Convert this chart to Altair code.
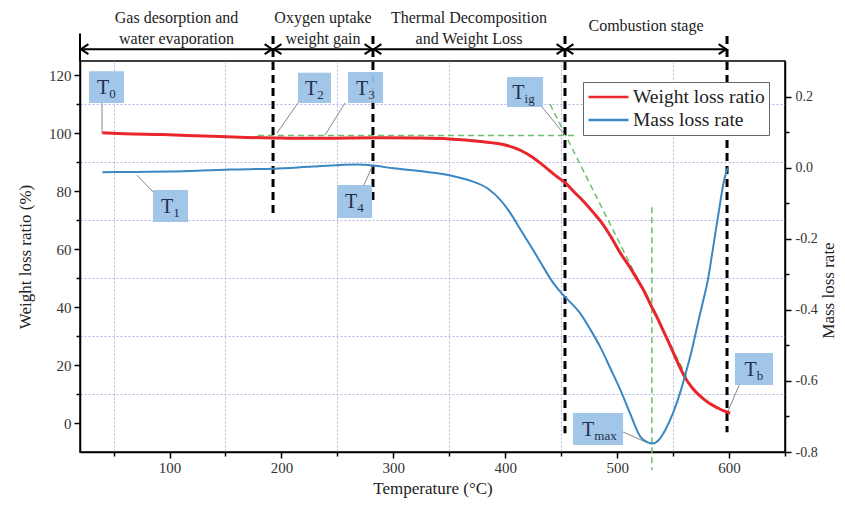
import altair as alt
import pandas as pd

SERIF = "Liberation Serif"
RED = "#e8262b"
BLUE = "#3a87c2"
GREEN = "#6cbf6a"
BOXC = "#9dc3e6"
TXT = "#1f2f4f"

# ---------------- series data ----------------
w_temp = [40, 60, 94, 130, 169, 200, 228, 260, 288, 320, 350, 378, 400, 414, 425, 435, 445, 454,
          462, 470, 478, 486, 494, 503, 512, 518, 524, 530, 536, 542, 548, 554, 560, 567, 575,
          582, 590, 596, 601]
w_ratio = [100.2, 99.9, 99.6, 99.1, 98.6, 98.4, 98.3, 98.4, 98.5, 98.4, 98.1, 97.2, 96.0, 94.1,
           91.6, 88.6, 85.4, 82.8, 79.6, 76.5, 73.0, 69.3, 64.6, 58.6, 53.4, 49.6, 45.6, 40.8,
           36.2, 31.2, 26.2, 21.0, 16.2, 12.2, 9.0, 6.9, 5.2, 4.1, 3.4]

r_temp = [40, 70, 100, 154, 193, 228, 268, 282, 300, 330, 351, 370, 384, 396, 405, 414, 423, 432,
          443, 452, 456, 467, 476, 485, 494, 503, 512, 521, 527, 532, 537, 543, 550, 557, 562,
          567, 572, 577, 581, 586, 591, 596, 599]
r_rate = [-0.013, -0.012, -0.011, -0.005, -0.003, 0.003, 0.009, 0.006, -0.002, -0.012, -0.022,
          -0.038, -0.058, -0.092, -0.13, -0.176, -0.222, -0.269, -0.325, -0.359, -0.372, -0.41,
          -0.455, -0.505, -0.565, -0.626, -0.695, -0.758, -0.772, -0.776, -0.767, -0.738, -0.69,
          -0.626, -0.57, -0.51, -0.44, -0.373, -0.317, -0.22, -0.12, -0.03, 0.0]

series_names = ["Weight loss ratio", "Mass loss rate"]

# ---------------- axis ticks ----------------
x_ticks = list(range(50, 651, 50))
yl_ticks = list(range(0, 121, 10))
yr_ticks = [round(-0.8 + 0.1 * i, 1) for i in range(11)]

# ---------------- stages ----------------
stage_bounds = [20, 192.5, 281.8, 453.4, 598.2]
stage_bottoms = [72.5, 76.5, -3.5, -3.2]
stage_line1 = ["Gas desorption and", "Oxygen uptake", "Thermal Decomposition", "Combustion stage"]
stage_line2 = ["water evaporation", "weight gain", "and Weight Loss", ""]

# ---------------- point labels ----------------
lab_sub = ["0", "1", "2", "3", "4", "ig", "max", "b"]
box_x1 = [28.0, 85.2, 214.8, 259.5, 249.7, 401.6, 460.6, 605.3]
box_x2 = [59.3, 116.5, 244.3, 290.8, 281.0, 433.8, 505.3, 639.3]
box_y1 = [110.5, 69.4, 110.5, 110.5, 70.8, 109.1, -7.6, 13.1]
box_y2 = [121.5, 80.5, 120.9, 121.2, 82.2, 119.5, 3.5, 24.2]
lead_x1 = [39.7, 85.2, 214.8, 256.8, 272.9, 432.9, 505.3, 609.8]
lead_y1 = [110.5, 79.8, 110.5, 110.5, 81.5, 109.1, -3.1, 13.8]
lead_x2 = [39.7, 70.9, 196.0, 238.9, 281.8, 453.4, 527.6, 599.1]
lead_y2 = [99.9, 85.6, 100.1, 99.4, 89.1, 99.4, -6.9, 4.1]

# ---------------- green construction lines ----------------
g_x1 = [179.0, 440.0, 531.0]
g_x2 = [464.0, 562.0, 531.0]
g_y1 = [99.3, 110.1, 74.5]
g_y2 = [99.3, 16.0, -16.2]

# ---------------- scales ----------------
XS = alt.Scale(domain=[20, 650], nice=False, zero=False)
YL = alt.Scale(domain=[-10, 125], nice=False, zero=False)
YR = alt.Scale(domain=[-0.8, 0.3], nice=False, zero=False)
CS = alt.Scale(domain=series_names, range=[RED, BLUE])

legend = alt.Legend(title=None, orient="none", legendX=503, legendY=21, symbolType="stroke",
                    symbolSize=1600, symbolStrokeWidth=2.5, clipHeight=22, labelFont=SERIF,
                    labelFontSize=19.5, labelColor="#222", strokeColor="#666", fillColor="white",
                    padding=4, labelOffset=3, rowPadding=1, labelLimit=300)

x_axis = alt.Axis(values=x_ticks, title="Temperature (°C)",
                  labelExpr="datum.value % 100 === 0 ? datum.label : ''",
                  tickSize={"condition": {"test": "datum.value % 100 === 0", "value": 6}, "value": 4},
                  grid=True,
                  gridOpacity={"condition": {"test": "datum.value % 100 === 0", "value": 0}, "value": 1},
                  gridColor="#b4b4e6", gridDash=[2, 2], gridWidth=1,
                  labelFont=SERIF, labelFontSize=15, labelColor="#333", labelPadding=2,
                  titleFont=SERIF, titleFontSize=17, titleFontWeight="normal", titleColor="#222",
                  titlePadding=5, domainColor="black", domainWidth=1.5, tickColor="black",
                  tickWidth=1.5, labelFlush=False)

yl_axis = alt.Axis(values=yl_ticks, title="Weight loss ratio (%)", orient="left",
                   labelExpr="datum.value % 20 === 0 ? datum.label : ''",
                   tickSize={"condition": {"test": "datum.value % 20 === 0", "value": 6}, "value": 4},
                   grid=True,
                   gridOpacity={"condition": {"test": "datum.value % 20 === 0", "value": 0}, "value": 1},
                   gridColor="#b4b4e6", gridDash=[2, 2], gridWidth=1,
                   labelFont=SERIF, labelFontSize=15, labelColor="#333", labelPadding=3,
                   titleFont=SERIF, titleFontSize=17, titleFontWeight="normal", titleColor="#222",
                   titlePadding=14, domainColor="black", domainWidth=1.5, tickColor="black",
                   tickWidth=1.5, labelFlush=False)

yr_axis = alt.Axis(values=yr_ticks, title="Mass loss rate", orient="right",
                   labelExpr="abs(round(datum.value*10)) % 2 === 0 ? replace(format(datum.value, '.1f'), '\u2212', '-') : ''",
                   tickSize={"condition": {"test": "abs(round(datum.value*10)) % 2 === 0", "value": 6}, "value": 4},
                   grid=False, labelFont=SERIF, labelFontSize=14, labelColor="#333", labelPadding=4,
                   titleFont=SERIF, titleFontSize=17, titleFontWeight="normal", titleColor="#222",
                   titleAngle=270, titleX=43, titleY=229, titleBaseline="middle", titleAlign="center",
                   domainColor="black", domainWidth=1.5,
                   tickColor="black", tickWidth=1.5, labelFlush=False)

# ---------------- tables ----------------
wdf = pd.DataFrame({"t": w_temp, "v": w_ratio, "s": series_names[0]})
rdf = pd.DataFrame({"t": r_temp, "v": r_rate, "s": series_names[1]})

bdf = pd.DataFrame({"x": stage_bounds[1:], "y1": [133.6] * 4, "y2": stage_bottoms})
edge_df = pd.DataFrame({"x": [stage_bounds[0]], "y1": [125.0], "y2": [134.5]})
arrow_df = pd.DataFrame({"x1": stage_bounds[:-1], "x2": stage_bounds[1:], "y": [129.1] * 4})
head_l = pd.DataFrame({"x": [b + 0.8 for b in stage_bounds[:-1]], "y": [129.1] * 4})
head_r = pd.DataFrame({"x": [b - 0.8 for b in stage_bounds[1:]], "y": [129.1] * 4})
mids = [(a + b) / 2 for a, b in zip(stage_bounds[:-1], stage_bounds[1:])]
st_df = pd.DataFrame({
    "x": mids + mids[:3],
    "y": [139.8, 139.8, 139.8, 137.2, 132.5, 132.5, 132.5],
    "text": stage_line1 + stage_line2[:3],
})

lab = pd.DataFrame({"sub": lab_sub, "x1": box_x1, "x2": box_x2, "y1": box_y1, "y2": box_y2})
lab["cx"] = (lab["x1"] + lab["x2"]) / 2
lab["cy"] = (lab["y1"] + lab["y2"]) / 2
lab["ax"] = lab["cx"] + ((12 - 6.5 * lab["sub"].str.len()) / 2) / 1.119
lab["T"] = "T"
lead = pd.DataFrame({"x1": lead_x1, "y1": lead_y1, "x2": lead_x2, "y2": lead_y2})
gdf = pd.DataFrame({"x1": g_x1, "x2": g_x2, "y1": g_y1, "y2": g_y2})

# every layer carries the same axis definition so the shared axes merge cleanly
def X(f):
    return alt.X(f, type="quantitative", scale=XS, axis=x_axis)

def Y(f):
    return alt.Y(f, type="quantitative", scale=YL, axis=yl_axis)

green = alt.Chart(gdf).mark_rule(color=GREEN, strokeDash=[6, 4], strokeWidth=1.5).encode(
    x=X("x1"), x2="x2", y=Y("y1"), y2="y2")

bounds = alt.Chart(bdf).mark_rule(color="black", strokeDash=[8, 5], strokeWidth=3).encode(
    x=X("x"), y=Y("y1"), y2="y2")

edge = alt.Chart(edge_df).mark_rule(color="black", strokeWidth=2).encode(
    x=X("x"), y=Y("y1"), y2="y2")

arrows = alt.Chart(arrow_df).mark_rule(color="black", strokeWidth=2).encode(
    x=X("x1"), x2="x2", y=Y("y"))

heads_left = alt.Chart(head_l).mark_point(shape="M1.5,-1L0,0L1.5,1", filled=False, stroke="black",
                                          strokeWidth=2, size=100, opacity=1).encode(x=X("x"), y=Y("y"))
heads_right = alt.Chart(head_r).mark_point(shape="M-1.5,-1L0,0L-1.5,1", filled=False, stroke="black",
                                           strokeWidth=2, size=100, opacity=1).encode(x=X("x"), y=Y("y"))

stage_text = alt.Chart(st_df).mark_text(font=SERIF, fontSize=16, color="#222", baseline="middle").encode(
    x=X("x"), y=Y("y"), text="text:N")

leaders = alt.Chart(lead).mark_rule(color="#888", strokeWidth=1).encode(
    x=X("x1"), x2="x2", y=Y("y1"), y2="y2")

red = alt.Chart(wdf).mark_line(strokeWidth=3, interpolate="monotone").encode(
    x=X("t"),
    y=Y("v"),
    color=alt.Color("s:N", scale=CS, legend=legend),
)

boxes = alt.Chart(lab).mark_rect(color=BOXC, opacity=0.95).encode(
    x=X("x1"), x2="x2", y=Y("y1"), y2="y2")

t_main = alt.Chart(lab).mark_text(font=SERIF, fontSize=20, color=TXT, align="right",
                                  baseline="alphabetic", dy=7).encode(
    x=X("ax"), y=Y("cy"), text="T:N")
t_sub = alt.Chart(lab).mark_text(font=SERIF, fontSize=13, color=TXT, align="left",
                                 baseline="alphabetic", dy=11).encode(
    x=X("ax"), y=Y("cy"), text="sub:N")

left_group = alt.layer(green, bounds, edge, arrows, heads_left, heads_right, stage_text,
                       leaders, red, boxes, t_main, t_sub)

blue = alt.Chart(rdf).mark_line(strokeWidth=2, interpolate="monotone").encode(
    x=X("t"),
    y=alt.Y("v:Q", scale=YR, axis=yr_axis),
    color=alt.Color("s:N", scale=CS, legend=legend),
)

chart = alt.layer(left_group, blue).resolve_scale(y="independent").properties(
    width=705, height=391,
    padding={"left": 72, "top": 53, "right": 52, "bottom": 56},
    autosize=alt.AutoSizeParams(type="none"),
    background="white",
).configure_view(stroke="black", strokeWidth=1.5)

chart.save("out.html", embed_options={"renderer": "svg", "actions": False})
